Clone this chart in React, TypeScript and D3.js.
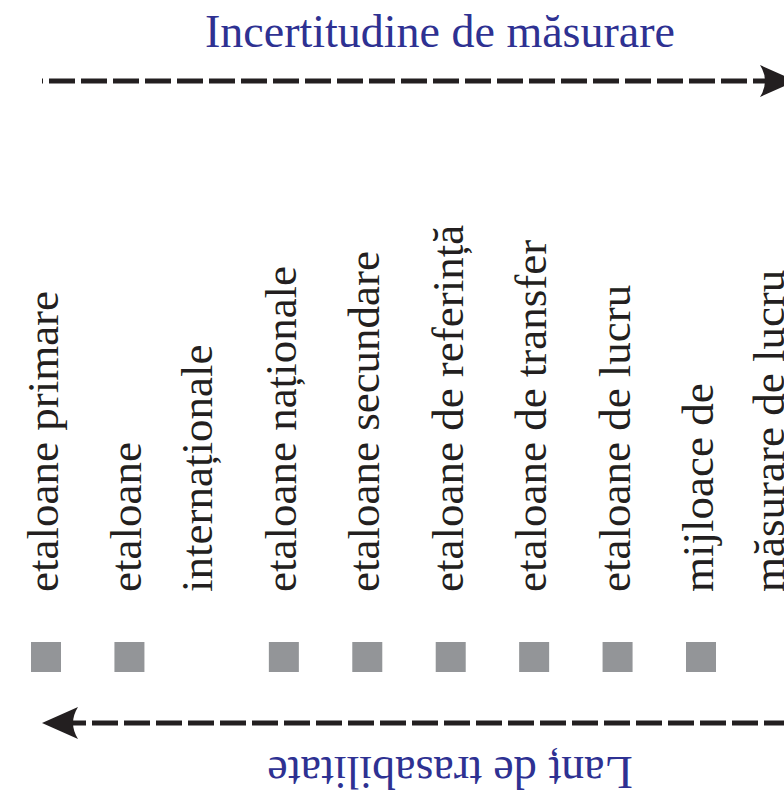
import React, { useEffect, useRef } from "react";
import * as d3 from "d3";

const topCaption = "Incertitudine de măsurare";
const bottomCaption = "Lanț de trasabilitate";

// standards along the chain, split into the printed lines
const standards = [
  ["etaloane primare"],
  ["etaloane", "internaționale"],
  ["etaloane naționale"],
  ["etaloane secundare"],
  ["etaloane de referință"],
  ["etaloane de transfer"],
  ["etaloane de lucru"],
  ["mijloace de", "măsurare de lucru"],
];

const W = 784;
const H = 790;
const INK = "#231f20";
const BLUE = "#2e3192";
const GREY = "#939598";
const SERIF = "'Liberation Serif', 'Times New Roman', Times, serif";

// arrow head pointing to +x, tip at origin
const headPath = "M0,0 L-36,-16 Q-26,0 -36,16 Z";

const App = () => {
  const ref = useRef<SVGSVGElement>(null);

  useEffect(() => {
    const svg = d3.select(ref.current);
    svg.selectAll("*").remove();

    const lineStep = 71;
    // second lines of earlier labels push the later ones to the right
    const extra = standards.map((_, i) =>
      d3.sum(standards.slice(0, i), (s) => s.length - 1)
    );
    const x = d3
      .scaleLinear()
      .domain([0, standards.length - 1])
      .range([46, 630]);
    const colX = (i: number) => x(i) + extra[i] * lineStep;

    // top caption + arrow
    svg
      .append("text")
      .attr("x", 440)
      .attr("y", 47)
      .attr("text-anchor", "middle")
      .attr("font-family", SERIF)
      .attr("font-size", 46)
      .attr("fill", BLUE)
      .text(topCaption);

    svg
      .append("line")
      .attr("x1", 42)
      .attr("x2", 780)
      .attr("y1", 81)
      .attr("y2", 81)
      .attr("stroke", INK)
      .attr("stroke-width", 5)
      .attr("stroke-dasharray", "26 6")
      .attr("stroke-dashoffset", 25);

    svg
      .append("path")
      .attr("d", headPath)
      .attr("transform", "translate(796,81)")
      .attr("fill", INK);

    // labels
    const g = svg
      .selectAll("g.std")
      .data(standards)
      .enter()
      .append("g")
      .attr("class", "std");

    g.selectAll("text")
      .data((d, i) => d.map((line, j) => ({ line, x: colX(i) + 12 + j * lineStep })))
      .enter()
      .append("text")
      .attr("transform", (d) => `translate(${d.x},592) rotate(-90)`)
      .attr("font-family", SERIF)
      .attr("font-size", 45)
      .attr("fill", INK)
      .text((d) => d.line);

    g.append("rect")
      .attr("x", (d, i) => colX(i) - 15)
      .attr("y", 642)
      .attr("width", 30)
      .attr("height", 30)
      .attr("fill", GREY);

    // bottom arrow + caption (upside down)
    svg
      .append("line")
      .attr("x1", 60)
      .attr("x2", W)
      .attr("y1", 723)
      .attr("y2", 723)
      .attr("stroke", INK)
      .attr("stroke-width", 5)
      .attr("stroke-dasharray", "26 6");

    svg
      .append("path")
      .attr("d", headPath)
      .attr("transform", "translate(42,723) rotate(180)")
      .attr("fill", INK);

    svg
      .append("text")
      .attr("transform", "translate(450,756.5) rotate(180)")
      .attr("text-anchor", "middle")
      .attr("font-family", SERIF)
      .attr("font-size", 46)
      .attr("fill", BLUE)
      .text(bottomCaption);
  }, []);

  return (
    <svg
      ref={ref}
      width={W}
      height={H}
      style={{ position: "absolute", left: 0, top: 0, background: "#fff" }}
    ></svg>
  );
};

export default App;
